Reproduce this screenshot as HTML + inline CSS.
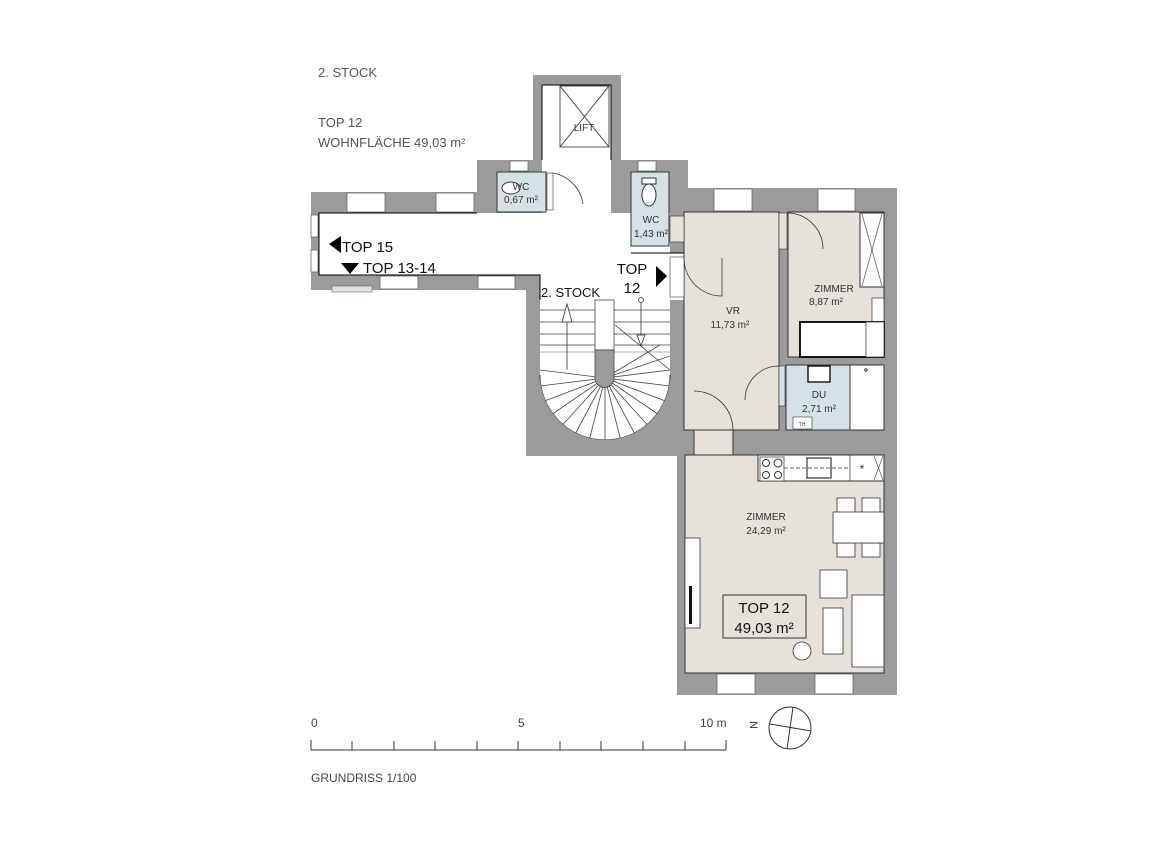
<!DOCTYPE html>
<html><head><meta charset="utf-8"><style>
html,body{margin:0;padding:0;background:#fff;}
svg{display:block;}
text{font-family:"Liberation Sans",sans-serif;}
</style></head><body>
<svg width="1152" height="856" viewBox="0 0 1152 856" xmlns="http://www.w3.org/2000/svg">
<defs>
<clipPath id="st"><rect x="540" y="300" width="130" height="145"/></clipPath>
</defs>
<g font-size="13" fill="#555">
<text x="318" y="77">2. STOCK</text>
<text x="318" y="127">TOP 12</text>
<text x="318" y="147">WOHNFLÄCHE 49,03 m²</text>
</g>
<g fill="#9b9b9b">
<rect x="533" y="75" width="88" height="90"/>
<rect x="477" y="160" width="75" height="57"/>
<rect x="611" y="160" width="77" height="93"/>
<rect x="311" y="192" width="166" height="21"/>
<rect x="311" y="192" width="8" height="98"/>
<rect x="311" y="275" width="229" height="15"/>
<rect x="526" y="275" width="158" height="181"/>
<rect x="670" y="188" width="227" height="267"/>
<rect x="677" y="440" width="220" height="255"/>
</g>
<rect x="319" y="213" width="351" height="62" fill="#fff"/>
<rect x="542" y="85" width="69" height="190" fill="#fff"/>
<rect x="540" y="253" width="144" height="47" fill="#fff"/>
<g stroke="#000" stroke-width="1" fill="none">
<polyline points="477,213 319,213 319,275 540,275 540,300"/>
<polyline points="542,160 542,85 611,85 611,160"/>
<polyline points="631,253 684,253"/>
</g>
<rect x="560" y="86" width="49" height="61" fill="#fff" stroke="#555"/>
<line x1="560" y1="86" x2="609" y2="147" stroke="#555"/><line x1="609" y1="86" x2="560" y2="147" stroke="#555"/>
<text x="584" y="131" font-size="10" text-anchor="middle" fill="#333">LIFT</text>
<g fill="#fff" stroke="#666" stroke-width="0.8">
<rect x="347" y="193" width="38" height="19"/><rect x="436" y="193" width="38" height="19"/>
<rect x="380" y="276" width="38" height="13"/><rect x="478" y="276" width="37" height="13"/>
<rect x="510" y="161" width="18" height="10"/><rect x="638" y="161" width="18" height="10"/>
<rect x="714" y="189" width="38" height="22"/><rect x="818" y="189" width="37" height="22"/>
<rect x="717" y="674" width="38" height="20"/><rect x="815" y="674" width="38" height="20"/>
<rect x="311" y="215" width="7" height="22"/><rect x="311" y="250" width="7" height="22"/>
</g>
<rect x="332" y="286" width="40" height="6" fill="#e4dfd9" stroke="#666" stroke-width="0.6"/>
<rect x="497" y="172" width="49" height="40" fill="#d6e1e6" stroke="#333"/>
<ellipse cx="511" cy="188" rx="9" ry="6" fill="#fff" stroke="#333"/>
<text x="521" y="190" font-size="10" text-anchor="middle" fill="#333">WC</text>
<text x="521" y="203" font-size="10" text-anchor="middle" fill="#333">0,67 m²</text>
<rect x="547" y="173" width="6" height="37" fill="#fff" stroke="#333" stroke-width="0.6"/>
<path d="M553 173 A37 37 0 0 1 583 204" fill="none" stroke="#333" stroke-width="0.8"/>
<rect x="631" y="172" width="38" height="74" fill="#d6e1e6" stroke="#333"/>
<ellipse cx="649" cy="195" rx="7" ry="11" fill="#fff" stroke="#333"/>
<rect x="642" y="178" width="14" height="6" fill="#fff" stroke="#333"/>
<text x="651" y="223" font-size="10" text-anchor="middle" fill="#333">WC</text>
<text x="651" y="237" font-size="10" text-anchor="middle" fill="#333">1,43 m²</text>
<polygon points="329,244 341,236 341,253" fill="#000"/>
<text x="342" y="252" font-size="15" fill="#111">TOP 15</text>
<polygon points="341,263 359,263 350,274" fill="#000"/>
<text x="363" y="273" font-size="15" fill="#111">TOP 13-14</text>
<text x="632" y="274" font-size="15" text-anchor="middle" fill="#111">TOP</text>
<text x="632" y="293" font-size="15" text-anchor="middle" fill="#111">12</text>
<polygon points="656,266 667,276 656,287" fill="#000"/>
<rect x="540" y="300" width="130" height="145" fill="#fff"/>
<g clip-path="url(#st)" stroke="#444" stroke-width="0.8" fill="none">
<line x1="540" y1="310" x2="670" y2="310"/><line x1="540" y1="322" x2="670" y2="322"/>
<line x1="540" y1="334" x2="670" y2="334"/><line x1="540" y1="345" x2="670" y2="345"/>
<line x1="540" y1="352" x2="670" y2="352" stroke="#999"/>
<line x1="605" y1="378" x2="540" y2="370"/><line x1="605" y1="378" x2="540" y2="386"/>
<line x1="605" y1="378" x2="542" y2="402"/><line x1="605" y1="378" x2="548" y2="417"/>
<line x1="605" y1="378" x2="558" y2="430"/><line x1="605" y1="378" x2="572" y2="440"/>
<line x1="605" y1="378" x2="588" y2="445"/><line x1="605" y1="378" x2="605" y2="445"/>
<line x1="605" y1="378" x2="622" y2="445"/><line x1="605" y1="378" x2="638" y2="440"/>
<line x1="605" y1="378" x2="652" y2="430"/><line x1="605" y1="378" x2="662" y2="417"/>
<line x1="605" y1="378" x2="668" y2="402"/><line x1="605" y1="378" x2="670" y2="386"/>
<line x1="605" y1="378" x2="670" y2="370"/><line x1="605" y1="378" x2="670" y2="356"/>
<line x1="605" y1="378" x2="660" y2="345"/><line x1="615" y1="325" x2="670" y2="370"/>
</g>
<rect x="595" y="300" width="19" height="50" fill="#fff" stroke="#444" stroke-width="0.8"/>
<path d="M595 350 L595 378 A9.5 9.5 0 0 0 614 378 L614 350 Z" fill="#9b9b9b" stroke="#444" stroke-width="0.8"/>
<path d="M540 375 A65 65 0 0 0 670 375" fill="none" stroke="#333"/>
<path d="M540 455 L540 375 A65 65 0 0 0 670 375 L670 455 Z" fill="#9b9b9b"/>
<rect x="540" y="445" width="130" height="11" fill="#9b9b9b"/>
<polygon points="567,304 562,322 572,322" fill="#fff" stroke="#333" stroke-width="0.8"/>
<line x1="567" y1="322" x2="567" y2="370" stroke="#333" stroke-width="0.8"/>
<circle cx="641" cy="300" r="2.5" fill="#fff" stroke="#333" stroke-width="0.8"/>
<line x1="641" y1="303" x2="641" y2="345" stroke="#333" stroke-width="0.8"/>
<polygon points="637,335 645,335 641,346" fill="#fff" stroke="#333" stroke-width="0.8"/>
<text x="541" y="297" font-size="13" fill="#111">2. STOCK</text>
<g fill="#e6e1db" stroke="#333" stroke-width="1">
<rect x="684" y="212" width="95" height="218"/>
<rect x="788" y="212" width="96" height="145"/>
<rect x="694" y="430" width="39" height="25"/>
<rect x="685" y="455" width="199" height="218"/>
</g>
<rect x="670" y="257" width="14" height="40" fill="#fff" stroke="#333" stroke-width="0.6"/>
<rect x="670" y="216" width="14" height="26" fill="#e6e1db" stroke="#333" stroke-width="0.6"/>
<rect x="786" y="365" width="64" height="65" fill="#d6e1e6" stroke="#333"/>
<rect x="850" y="365" width="34" height="65" fill="#fff" stroke="#333"/>
<circle cx="866" cy="370" r="1.3" fill="none" stroke="#333"/>
<rect x="808" y="366" width="22" height="16" fill="#fff" stroke="#111" stroke-width="1.4"/>
<rect x="793" y="417" width="19" height="12" fill="#fff" stroke="#333" stroke-width="0.6"/>
<text x="802" y="426" font-size="5" fill="#333" text-anchor="middle">TH</text>
<rect x="779" y="366" width="6" height="40" fill="#d6e1e6" stroke="#333" stroke-width="0.6"/>
<rect x="779" y="213" width="8" height="36" fill="#e6e1db" stroke="#333" stroke-width="0.6"/>
<g fill="none" stroke="#333" stroke-width="0.8">
<path d="M684 258 A38 38 0 0 0 722 296 L722 258"/>
<path d="M787 213 A36 36 0 0 1 823 249"/>
<path d="M779 366 A34 34 0 0 0 745 400"/>
<path d="M694 391 A39 39 0 0 1 733 430"/>
</g>
<rect x="860" y="213" width="24" height="74" fill="#fff" stroke="#333"/>
<line x1="862" y1="214" x2="882" y2="286" stroke="#555" stroke-width="0.7"/><line x1="882" y1="214" x2="862" y2="286" stroke="#555" stroke-width="0.7"/>
<rect x="872" y="298" width="12" height="24" fill="#fff" stroke="#333" stroke-width="0.7"/>
<rect x="800" y="322" width="84" height="35" fill="#fff" stroke="#000" stroke-width="1.8"/>
<rect x="866" y="322" width="18" height="35" fill="#fff" stroke="#333" stroke-width="0.7"/>
<rect x="758" y="455" width="126" height="26" fill="#fff" stroke="#333"/>
<rect x="760" y="457" width="24" height="24" fill="#fff" stroke="#333" stroke-width="0.7"/>
<circle cx="766" cy="463" r="3.5" fill="none" stroke="#333"/><circle cx="778" cy="463" r="4" fill="none" stroke="#333"/>
<circle cx="766" cy="475" r="3.5" fill="none" stroke="#333"/><circle cx="778" cy="475" r="3.5" fill="none" stroke="#333"/>
<rect x="807" y="458" width="24" height="20" fill="#fff" stroke="#333" stroke-width="1.2"/>
<line x1="784" y1="468" x2="850" y2="468" stroke="#333" stroke-dasharray="4 2" stroke-width="0.7"/>
<line x1="850" y1="455" x2="850" y2="481" stroke="#333" stroke-width="0.7"/>
<text x="862" y="473" font-size="12" text-anchor="middle" fill="#333">*</text>
<line x1="874" y1="456" x2="883" y2="480" stroke="#333" stroke-width="0.6"/><line x1="883" y1="456" x2="874" y2="480" stroke="#333" stroke-width="0.6"/>
<g fill="#fff" stroke="#333" stroke-width="0.8">
<rect x="837" y="498" width="18" height="16"/><rect x="862" y="498" width="18" height="16"/>
<rect x="837" y="543" width="18" height="14"/><rect x="862" y="543" width="18" height="14"/>
<rect x="833" y="512" width="51" height="31"/>
<rect x="820" y="570" width="27" height="28"/>
<rect x="852" y="595" width="32" height="72"/>
<rect x="823" y="608" width="20" height="46"/>
<circle cx="802" cy="651" r="9"/>
<rect x="685" y="538" width="15" height="90"/>
</g>
<rect x="689" y="586" width="3" height="38" fill="#111"/>
<g font-size="10" fill="#333" text-anchor="middle">
<text x="733" y="314">VR</text><text x="730" y="328">11,73 m²</text>
<text x="834" y="292">ZIMMER</text><text x="826" y="305">8,87 m²</text>
<text x="819" y="398">DU</text><text x="819" y="412">2,71 m²</text>
<text x="766" y="520">ZIMMER</text><text x="766" y="534">24,29 m²</text>
</g>
<rect x="723" y="595" width="83" height="43" fill="none" stroke="#333"/>
<text x="764" y="613" font-size="15" text-anchor="middle" fill="#111">TOP 12</text>
<text x="764" y="633" font-size="15" text-anchor="middle" fill="#111">49,03 m²</text>
<g stroke="#333" stroke-width="1">
<line x1="311" y1="750" x2="726" y2="750"/>
<line x1="311" y1="740" x2="311" y2="750"/><line x1="352" y1="741" x2="352" y2="750"/>
<line x1="394" y1="741" x2="394" y2="750"/><line x1="435" y1="741" x2="435" y2="750"/>
<line x1="477" y1="741" x2="477" y2="750"/><line x1="518" y1="741" x2="518" y2="750"/>
<line x1="560" y1="741" x2="560" y2="750"/><line x1="601" y1="741" x2="601" y2="750"/>
<line x1="643" y1="741" x2="643" y2="750"/><line x1="685" y1="741" x2="685" y2="750"/>
<line x1="726" y1="740" x2="726" y2="750"/>
</g>
<g font-size="12" fill="#444">
<text x="311" y="727">0</text><text x="518" y="727">5</text><text x="700" y="727">10 m</text>
<text x="311" y="782">GRUNDRISS 1/100</text>
</g>
<text transform="translate(750,725) rotate(90)" font-size="11" fill="#333" text-anchor="middle">N</text>
<circle cx="790" cy="728" r="21" fill="none" stroke="#333"/>
<line x1="770" y1="724" x2="811" y2="731" stroke="#333"/>
<line x1="793" y1="707" x2="787" y2="749" stroke="#333"/>
</svg>
</body></html>
